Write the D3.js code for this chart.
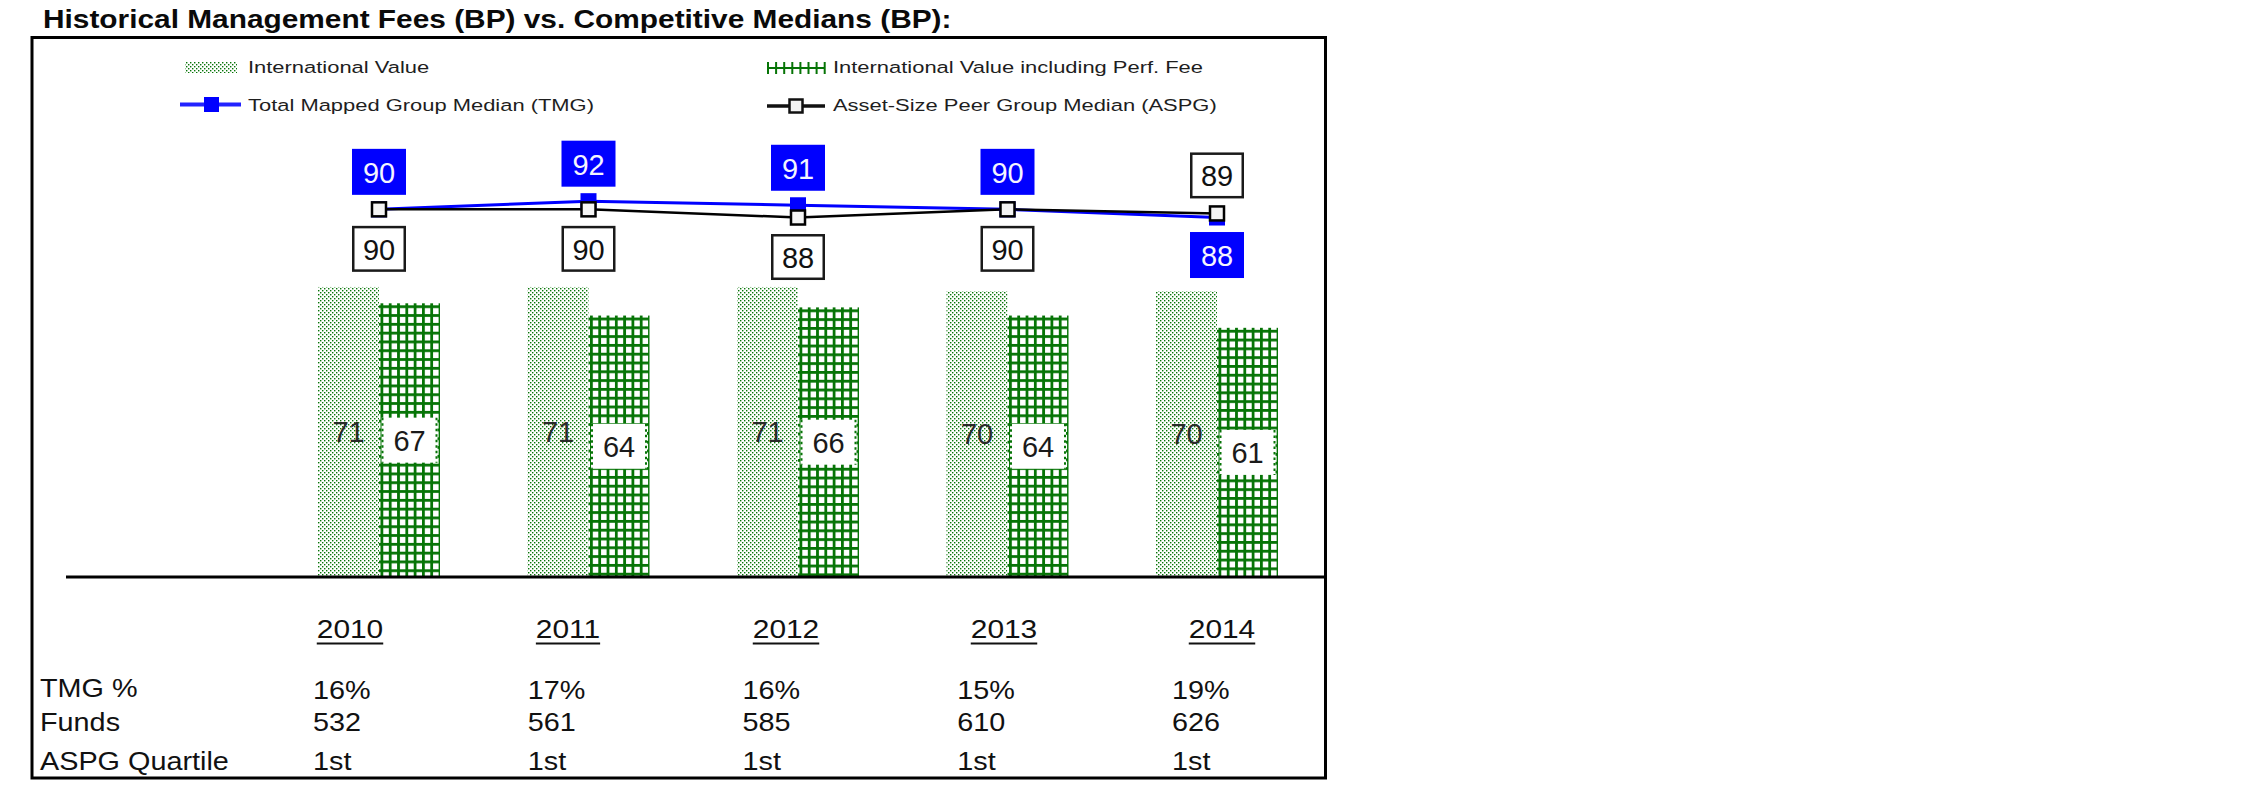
<!DOCTYPE html>
<html><head><meta charset="utf-8">
<script src="https://cdn.jsdelivr.net/npm/d3@7"></script>
<style>html,body{margin:0;padding:0;background:#fff;} svg{display:block;}</style>
</head><body><svg id="chart" width="2251" height="798"></svg>
<script>
// ---------- DATA ----------
const years = ["2010","2011","2012","2013","2014"];
const intlValue = [71,71,71,70,70];
const intlValuePerf = [67,64,66,64,61];
const tmgMedian = [90,92,91,90,88];
const aspgMedian = [90,90,88,90,89];
const tmgPct = ["16%","17%","16%","15%","19%"];
const funds = ["532","561","585","610","626"];
const aspgQuartile = ["1st","1st","1st","1st","1st"];
const rowLabels = ["TMG %","Funds","ASPG Quartile"];
const titleText = "Historical Management Fees (BP) vs. Competitive Medians (BP):";
const legendLabels = ["International Value","International Value including Perf. Fee","Total Mapped Group Median (TMG)","Asset-Size Peer Group Median (ASPG)"];

// ---------- SETUP ----------
const svg = d3.select("#chart");
const FONT = "'Liberation Sans', Arial, Helvetica, sans-serif";
const GREEN = "#067406";
const BLUE = "#0000ff";

function stext(g, x, y, str, o) {
  return g.append("text")
    .attr("transform", `translate(${x},${y}) scale(${o.sx || 1},1)`)
    .attr("font-family", FONT)
    .attr("font-size", o.size)
    .attr("font-weight", o.weight || "normal")
    .attr("fill", o.fill || "#111")
    .attr("text-anchor", o.anchor || "start")
    .attr("dominant-baseline", o.db || "auto")
    .text(str);
}

const baseY = 577;
const y = d3.scaleLinear().domain([0, 100]).range([baseY, baseY - 408.5]);
const xc = d3.scalePoint().domain(years).range([379, 1217]);
const barW = 61;
const tYear = d3.scalePoint().domain(years).range([350, 1222]);
const tVal = d3.scalePoint().domain(years).range([313, 1172]);

const defs = svg.append("defs");
const dots = defs.append("pattern").attr("id", "dots")
  .attr("patternUnits", "userSpaceOnUse").attr("width", 4).attr("height", 4);
dots.append("rect").attr("width", 4).attr("height", 4).attr("fill", "#fff");
dots.append("rect").attr("x", 0).attr("y", 0).attr("width", 1.4).attr("height", 1.4).attr("fill", GREEN);
dots.append("rect").attr("x", 2).attr("y", 2).attr("width", 1.4).attr("height", 1.4).attr("fill", GREEN);

years.forEach((yr, i) => {
  const p = defs.append("pattern").attr("id", "grid" + i)
    .attr("patternUnits", "userSpaceOnUse")
    .attr("x", xc(yr) + 1.5).attr("y", y(intlValuePerf[i]) + 2)
    .attr("width", 8.3).attr("height", 8.8);
  p.append("rect").attr("width", 8.3).attr("height", 8.8).attr("fill", "#fff");
  p.append("rect").attr("width", 2.8).attr("height", 8.8).attr("fill", GREEN);
  p.append("rect").attr("width", 8.3).attr("height", 2.8).attr("fill", GREEN);
});

// ---------- TITLE ----------
stext(svg, 43, 28, titleText, {size: 25.5, weight: "bold", sx: 1.17, fill: "#0a0a0a"});

// ---------- FRAME ----------
svg.append("rect").attr("x", 32).attr("y", 37.5).attr("width", 1293.5).attr("height", 740.5)
  .attr("fill", "none").attr("stroke", "#000").attr("stroke-width", 3);

// ---------- BARS ----------
const gBars = svg.append("g");
gBars.selectAll("rect.iv").data(intlValue).join("rect").attr("class", "iv")
  .attr("x", (d, i) => xc(years[i]) - barW).attr("y", d => y(d))
  .attr("width", barW).attr("height", d => y(0) - y(d))
  .attr("fill", "url(#dots)");
gBars.selectAll("rect.ivp").data(intlValuePerf).join("rect").attr("class", "ivp")
  .attr("x", (d, i) => xc(years[i])).attr("y", d => y(d))
  .attr("width", barW).attr("height", d => y(0) - y(d))
  .attr("fill", (d, i) => `url(#grid${i})`);

// baseline
svg.append("line").attr("x1", 66).attr("x2", 1325).attr("y1", baseY).attr("y2", baseY)
  .attr("stroke", "#000").attr("stroke-width", 3);

// bar labels
intlValue.forEach((v, i) => {
  const cx = xc(years[i]) - barW / 2, cy = (y(v) + y(0)) / 2;
  stext(svg, cx, cy, d3.format("d")(v), {size: 29, anchor: "middle", db: "central", fill: "#2a2a2a"});
});
intlValuePerf.forEach((v, i) => {
  const cx = xc(years[i]) + barW / 2, cy = (y(v) + y(0)) / 2;
  const w = 56, h = 45;
  svg.append("rect").attr("x", cx - w / 2).attr("y", cy - h / 2).attr("width", w).attr("height", h)
    .attr("fill", "#fff");
  [cx - w / 2 + 1, cx + w / 2 - 1].forEach(lx => {
    svg.append("line").attr("x1", lx).attr("x2", lx).attr("y1", cy - h / 2).attr("y2", cy + h / 2)
      .attr("stroke", GREEN).attr("stroke-width", 2).attr("stroke-dasharray", "2.5,3");
  });
  stext(svg, cx, cy + 1, d3.format("d")(v), {size: 29, anchor: "middle", db: "central", fill: "#1a1a1a"});
});

// ---------- LINES ----------
const line = d3.line().x((d, i) => xc(years[i])).y(d => y(d));
svg.append("path").attr("d", line(tmgMedian)).attr("fill", "none").attr("stroke", BLUE).attr("stroke-width", 3);
svg.append("path").attr("d", line(aspgMedian)).attr("fill", "none").attr("stroke", "#000").attr("stroke-width", 2.5);

const ms = 16;
svg.selectAll("rect.tmgm").data(tmgMedian).join("rect").attr("class", "tmgm")
  .attr("x", (d, i) => xc(years[i]) - ms / 2).attr("y", d => y(d) - ms / 2)
  .attr("width", ms).attr("height", ms).attr("fill", BLUE);
svg.selectAll("rect.aspgm").data(aspgMedian).join("rect").attr("class", "aspgm")
  .attr("x", (d, i) => xc(years[i]) - 7).attr("y", d => y(d) - 7)
  .attr("width", 14).attr("height", 14).attr("fill", "#f4f4f4")
  .attr("stroke", "#000").attr("stroke-width", 2.5);

// value labels
const lw = 54, lh = 46;
years.forEach((yr, i) => {
  const x = xc(yr);
  const tmgAbove = tmgMedian[i] >= aspgMedian[i];
  const ty = y(tmgMedian[i]), ay = y(aspgMedian[i]);
  const tTop = tmgAbove ? ty - 14.5 - lh : ty + 14.5;
  const aTop = tmgAbove ? ay + 16.5 : ay - 15 - lh;
  svg.append("rect").attr("x", x - lw / 2).attr("y", tTop).attr("width", lw).attr("height", lh)
    .attr("fill", BLUE);
  stext(svg, x, tTop + lh / 2 + 1, d3.format("d")(tmgMedian[i]), {size: 29, anchor: "middle", db: "central", fill: "#f4f4ff"});
  svg.append("rect").attr("x", x - lw / 2 + 1.25).attr("y", aTop + 1.25).attr("width", lw - 2.5).attr("height", lh - 2.5)
    .attr("fill", "#fff").attr("stroke", "#1a1a1a").attr("stroke-width", 2.5);
  stext(svg, x, aTop + lh / 2 + 1, d3.format("d")(aspgMedian[i]), {size: 29, anchor: "middle", db: "central", fill: "#111"});
});

// ---------- LEGEND ----------
const lg = svg.append("g");
lg.append("rect").attr("x", 185).attr("y", 62).attr("width", 52).attr("height", 11).attr("fill", "url(#dots)");
stext(lg, 248, 73, legendLabels[0], {size: 17, sx: 1.29, fill: "#1e1e1e"});

lg.append("line").attr("x1", 767).attr("x2", 825).attr("y1", 68).attr("y2", 68).attr("stroke", GREEN).attr("stroke-width", 2);
d3.range(8).forEach(k => {
  const lx = 768 + k * 8.1;
  lg.append("line").attr("x1", lx).attr("x2", lx).attr("y1", 62).attr("y2", 74).attr("stroke", GREEN).attr("stroke-width", 2);
});
stext(lg, 833, 73, legendLabels[1], {size: 17, sx: 1.29, fill: "#1e1e1e"});

lg.append("line").attr("x1", 180).attr("x2", 241).attr("y1", 104.5).attr("y2", 104.5).attr("stroke", "#2222ff").attr("stroke-width", 4);
lg.append("rect").attr("x", 204).attr("y", 97).attr("width", 15).attr("height", 15).attr("fill", BLUE);
stext(lg, 248, 110.5, legendLabels[2], {size: 17, sx: 1.29, fill: "#1e1e1e"});

lg.append("line").attr("x1", 767).attr("x2", 825).attr("y1", 106).attr("y2", 106).attr("stroke", "#111").attr("stroke-width", 3.5);
lg.append("rect").attr("x", 789.5).attr("y", 99.5).attr("width", 13).attr("height", 13)
  .attr("fill", "#f4f4f4").attr("stroke", "#111").attr("stroke-width", 2.5);
stext(lg, 833, 111, legendLabels[3], {size: 17, sx: 1.29, fill: "#1e1e1e"});

// ---------- TABLE ----------
const tg = svg.append("g");
const ySx = 1.15;
years.forEach(yr => {
  const t = stext(tg, tYear(yr), 638, yr, {size: 26, sx: ySx, anchor: "middle", fill: "#111"});
  const w = t.node().getComputedTextLength() * ySx;
  tg.append("line").attr("x1", tYear(yr) - w / 2).attr("x2", tYear(yr) + w / 2)
    .attr("y1", 643.5).attr("y2", 643.5).attr("stroke", "#111").attr("stroke-width", 2.2);
});
const rowY = [697, 731, 770];
const rows = [tmgPct, funds, aspgQuartile];
rowLabels.forEach((lab, r) => {
  stext(tg, 40, rowY[r], lab, {size: 25.5, sx: 1.13, fill: "#111"});
  rows[r].forEach((v, i) => {
    stext(tg, tVal(years[i]), rowY[r] + (r === 0 ? 2 : 0), v, {size: 25.5, sx: 1.13, fill: "#111"});
  });
});
</script>
</body></html>
